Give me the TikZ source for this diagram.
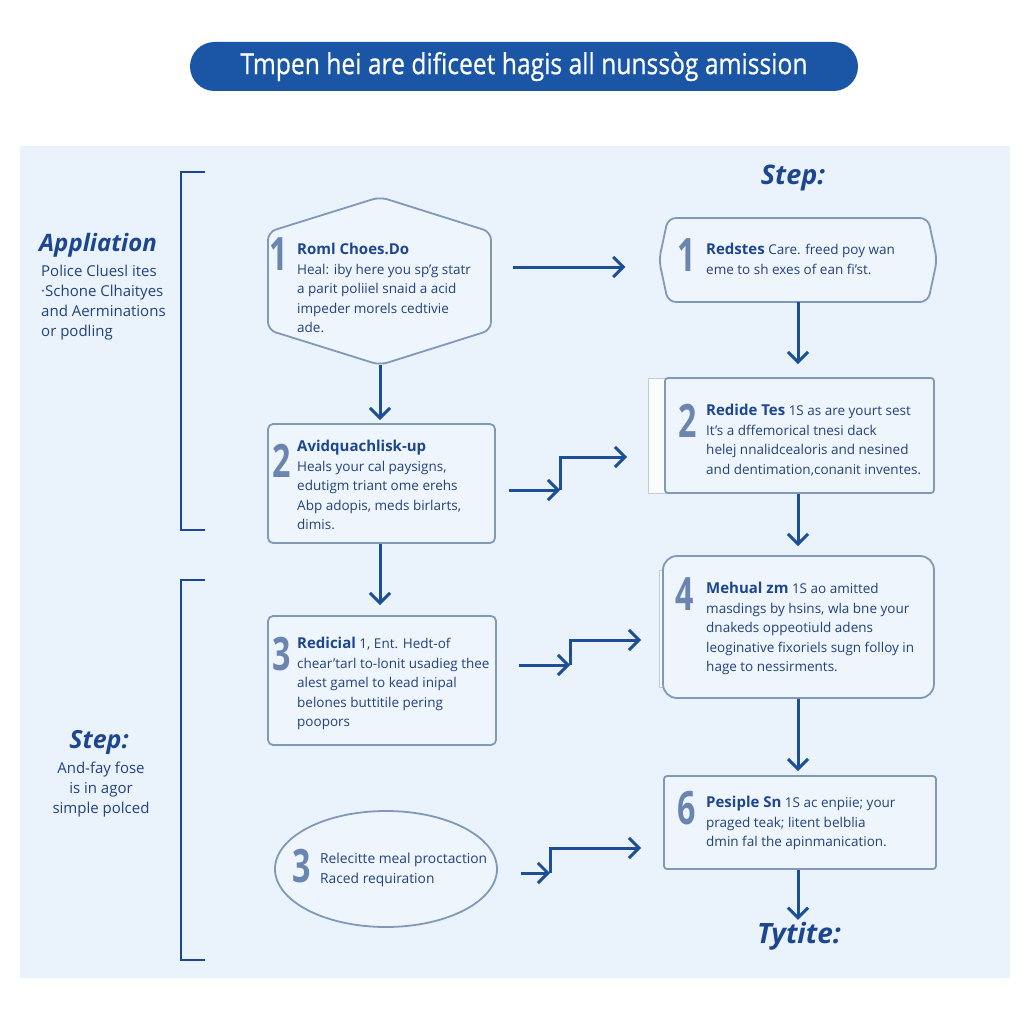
\documentclass[tikz,border=0pt]{standalone}
\usepackage{fontspec}
\setmainfont{Open Sans}
\newfontfamily\pillfont[FakeBold=0.6]{Open Sans}
\usetikzlibrary{arrows.meta,shapes.geometric}
\definecolor{PanelBlue}{HTML}{EAF3FB}
\definecolor{PillBlue}{HTML}{1B56A6}
\definecolor{InkBlue}{HTML}{1C4690}
\definecolor{TextBlue}{HTML}{23427C}
\definecolor{EdgeGray}{HTML}{8099B8}
\definecolor{NumGray}{HTML}{6A86B0}
\definecolor{BoxFill}{HTML}{EEF5FC}
\definecolor{ArrowBlue}{HTML}{1D4E98}

\newcommand{\bignum}[1]{\scalebox{0.7}[1]{#1}}

\tikzset{
  box/.style={draw=EdgeGray, line width=1.8pt, fill=BoxFill, rounded corners=5pt, minimum width=#1},
  slot/.style={inner sep=0pt, minimum width=#1},
  arr/.style={-{Straight Barb[length=10pt,width=20pt]}, line width=3pt, ArrowBlue},
  body/.style={anchor=north west, align=left, inner sep=0pt, text=TextBlue,
    font=\fontsize{13.5}{19.5}\selectfont},
  side/.style={align=left, inner sep=0pt, text=TextBlue, font=\fontsize{15}{20}\selectfont},
  num/.style={anchor=north west, inner sep=0pt, text=NumGray,
    font=\fontsize{46}{46}\selectfont\bfseries},
  head/.style={inner sep=0pt, text=InkBlue, font=\fontsize{25}{25}\selectfont\bfseries\itshape},
  brace/.style={draw=InkBlue, line width=2.4pt},
}

\begin{document}
\begin{tikzpicture}[x=1pt,y=-1pt]
  \useasboundingbox[fill=white] (0,0) rectangle (1024,1024);
  % panel and title
  \fill[PanelBlue] (20,146) rectangle (1010,978);
  \node[fill=PillBlue, rounded corners=24.5pt, minimum width=668pt, minimum height=49pt,
    inner sep=0pt, text=white, font=\pillfont\fontsize{29}{29}\selectfont] (title) at (524,66.5)
    {\scalebox{0.85}[1]{Tmpen hei are dificeet hagis all nunssòg amission}};

  % side brackets and labels
  \draw[brace] (205,172) -- (181,172) -- (181,530) -- (205,530);
  \draw[brace] (205,580) -- (181,580) -- (181,960) -- (205,960);
  \node[head, font=\fontsize{24}{24}\selectfont\bfseries\itshape] (app) at (98,245) {Appliation};
  \node[side, anchor=north west] (apptxt) at (41,265) {Police Cluesl ites\\·Schone Clhaityes\\and Aerminations\\or podling};
  \node[head] (stepl) at (99,742) {Step:};
  \node[side, align=center, anchor=north] (steptxt) at (101,762) {And-fay fose\\is in agor\\simple polced};
  \node[head, font=\fontsize{27}{27}\selectfont\bfseries\itshape] (stepr) at (793,178) {Step:};

  % left column
  \node[slot=223pt, minimum height=168pt] (l1) at (380,281) {};
  \draw[box, rounded corners=8pt] (380,197) -- (491,232) -- (491,330) -- (380,365)
    -- (268,330) -- (268,232) -- cycle;
  \node[num] (l1n) at (269,237) {\bignum{1}};
  \node[body] (l1t) at (297,243) {\textbf{\color{InkBlue}\fontsize{15}{19}\selectfont Roml Choes.Do}\\Heal: iby here you sp'g statr\\a parit poliiel snaid a acid\\impeder morels cedtivie\\ade.};

  \node[box=227pt, minimum height=119pt] (l2) at (381.5,483.5) {};
  \node[num] (l2n) at (272,444) {\bignum{2}};
  \node[body] (l2t) at (297,440) {\textbf{\color{InkBlue}\fontsize{15}{19}\selectfont Avidquachlisk-up}\\Heals your cal paysigns,\\edutigm triant ome erehs\\Abp adopis, meds birlarts,\\dimis.};

  \node[box=228pt, minimum height=129pt] (l3) at (382,680.5) {};
  \node[num] (l3n) at (272,637) {\bignum{3}};
  \node[body] (l3t) at (297,637) {{\color{InkBlue}\fontsize{15}{19}\selectfont\textbf{Redicial}} 1, Ent. Hedt-of\\chear'tarl to-lonit usadieg thee\\alest gamel to kead inipal\\belones buttitile pering\\poopors};

  \node[ellipse, draw=EdgeGray, line width=1.8pt, fill=BoxFill, minimum width=222pt,
    minimum height=116pt] (e3) at (386,869) {};
  \node[num] (e3n) at (292,849) {\bignum{3}};
  \node[body, font=\fontsize{13.8}{20}\selectfont] (e3t) at (320,853) {Relecitte meal proctaction\\Raced requiration};

  % right column
  \node[slot=277pt, minimum height=84pt] (r1) at (798,260) {};
  \draw[box, rounded corners=8pt] (668,218) -- (928,218) -- (937,260) -- (928,302)
    -- (668,302) -- (659,260) -- cycle;
  \node[num] (r1n) at (677,238) {\bignum{1}};
  \node[body] (r1t) at (706,243) {{\color{InkBlue}\fontsize{15}{19}\selectfont\textbf{Redstes}} Care. freed poy wan\\eme to sh exes of ean fi'st.};

  \fill[white!70!BoxFill, draw=EdgeGray!50, line width=0.8pt] (648,378) rectangle (668,493);
  \node[box=269pt, minimum height=115pt, rounded corners=3pt] (r2) at (799.5,435.5) {};
  \node[num] (r2n) at (678,404) {\bignum{2}};
  \node[body] (r2t) at (706,404) {{\color{InkBlue}\fontsize{15}{19}\selectfont\textbf{Redide Tes}} 1S as are yourt sest\\It's a dffemorical tnesi dack\\helej nnalidcealoris and nesined\\and dentimation,conanit inventes.};

  \fill[white!70!BoxFill, draw=EdgeGray!50, line width=0.8pt] (659,570) rectangle (672,687);
  \node[box=271pt, minimum height=142pt, rounded corners=14pt] (r4) at (798.5,627) {};
  \node[num] (r4n) at (675,577) {\bignum{4}};
  \node[body] (r4t) at (706,582) {{\color{InkBlue}\fontsize{15}{19}\selectfont\textbf{Mehual zm}} 1S ao amitted\\masdings by hsins, wla bne your\\dnakeds oppeotiuld adens\\leoginative fixoriels sugn folloy in\\hage to nessirments.};

  \node[box=272pt, minimum height=93pt, rounded corners=3pt] (r6) at (800,822.5) {};
  \node[num] (r6n) at (677,791) {\bignum{6}};
  \node[body] (r6t) at (706,796) {{\color{InkBlue}\fontsize{15}{19}\selectfont\textbf{Pesiple Sn}} 1S ac enpiie; your\\praged teak; litent belblia\\dmin fal the apinmanication.};
  \node[head, font=\fontsize{28}{28}\selectfont\bfseries\itshape] (end) at (799,936) {Tytite:};

  % vertical connectors
  \draw[arr, shorten >=3pt] (l1.south) -- (l1.south |- l2.north);
  \draw[arr, shorten >=10pt] (l1.south |- l2.south) -- (l1.south |- l3.north);
  \draw[arr, shorten >=13pt] (r1.south) -- (r1.south |- r2.north);
  \draw[arr, shorten >=9pt] (r1.south |- r2.south) -- (r1.south |- r4.north);
  \draw[arr, shorten >=4pt] (r1.south |- r4.south) -- (r1.south |- r6.north);
  \draw[arr, shorten >=2pt] (r1.south |- r6.south) -- (r1.south |- end.north);

  % horizontal connectors
  \coordinate (h1) at (513,267);
  \draw[arr, shorten >=34pt] (h1) -- (r1.west |- h1);
  \coordinate (k1) at (560,490);
  \coordinate (k1t) at (560,457);
  \draw[arr, shorten <=13pt] (l2.east |- k1) -- (k1);
  \draw[arr, shorten >=37pt] (k1) -- (k1t) -- (r2.west |- k1t);
  \coordinate (k2) at (570,665);
  \coordinate (k2t) at (570,640);
  \draw[arr, shorten <=22pt] (l3.east |- k2) -- (k2);
  \draw[arr, shorten >=21pt] (k2) -- (k2t) -- (r4.west |- k2t);
  \coordinate (k3) at (550,873);
  \coordinate (k3t) at (550,848);
  \draw[arr, shorten <=23pt] (e3.east |- k3) -- (k3);
  \draw[arr, shorten >=22pt] (k3) -- (k3t) -- (r6.west |- k3t);
\end{tikzpicture}
\end{document}
